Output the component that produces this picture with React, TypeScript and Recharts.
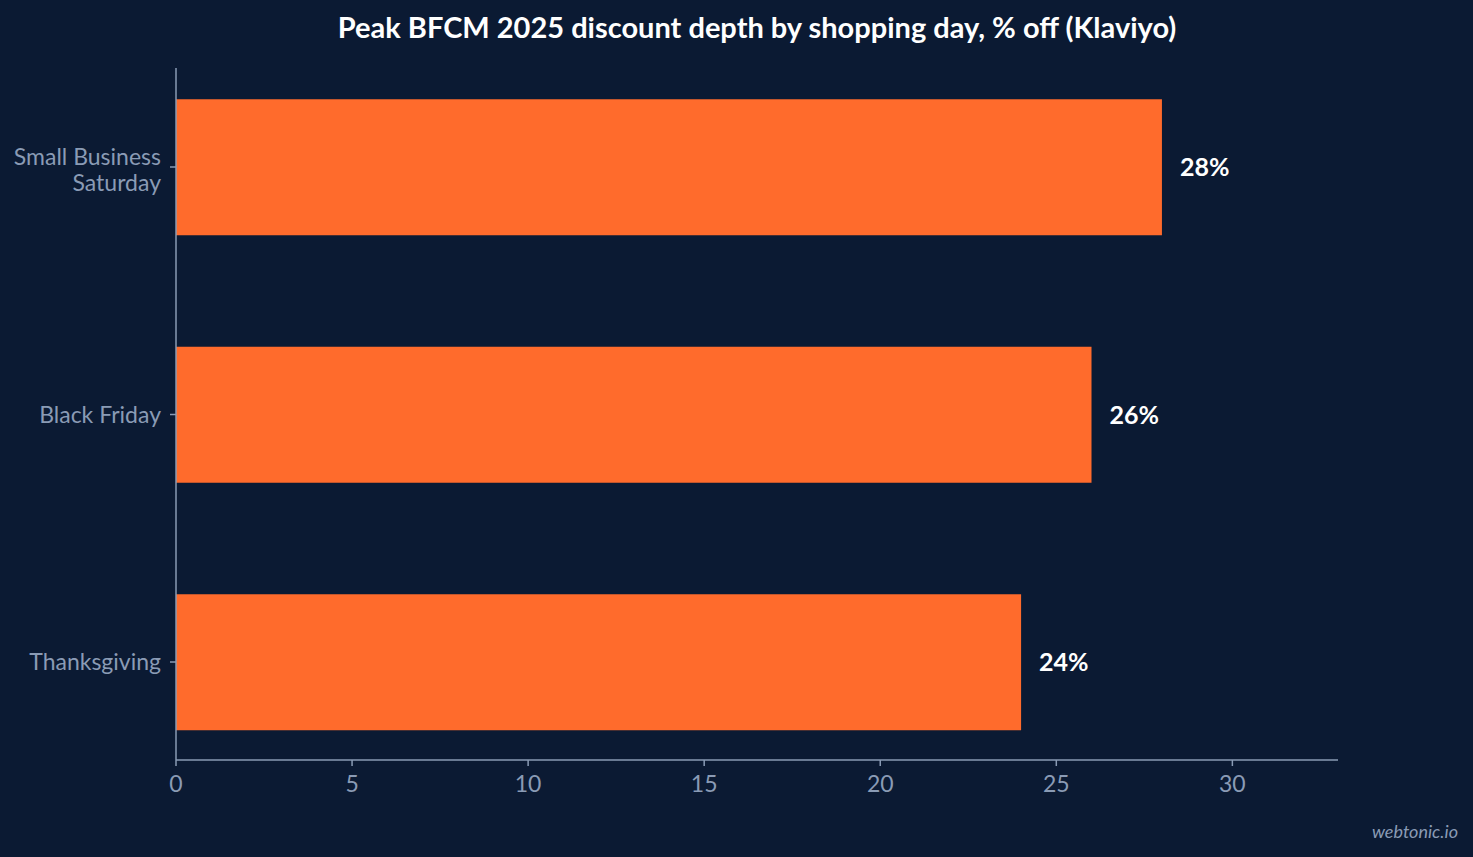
import React from "react";
import { BarChart, Bar, XAxis, YAxis, LabelList } from "recharts";

const days = ["Small Business Saturday", "Black Friday", "Thanksgiving"];
const discountPct = [28, 26, 24];
const xTicks = [0, 5, 10, 15, 20, 25, 30];

const data = days.map((day, i) => ({ day, pct: discountPct[i] }));

const BG = "#0b1a33";
const AXIS = "#8a9bb5";
const BAR = "#ff6b2c";
const FONT = "Lato, 'Noto Sans', sans-serif";

function DayTick({ x, y, payload }: any) {
  const words = String(payload.value).split(" ");
  const lines = payload.value.length > 14 && words.length > 2
    ? [words.slice(0, 2).join(" "), words.slice(2).join(" ")]
    : [payload.value];
  const lh = 25.5;
  const start = lines.length > 1 ? -lh / 2 + 3 : 0;
  return (
    <text x={x} y={y} textAnchor="end" fill={AXIS} fontSize={23} fontFamily={FONT}>
      {lines.map((l, i) => (
        <tspan key={i} x={x - 1} dy={i === 0 ? start + 8 : lh}>
          {l}
        </tspan>
      ))}
    </text>
  );
}

export default function App() {
  return (
    <div
      style={{
        position: "fixed",
        left: 0,
        top: 0,
        width: 1473,
        height: 857,
        background: BG,
        fontFamily: FONT,
      }}
    >
      <div
        style={{
          position: "absolute",
          top: 9,
          left: 0,
          width: 1514,
          textAlign: "center",
          color: "#ffffff",
          fontWeight: 700,
          fontSize: 29,
        }}
      >
        Peak BFCM 2025 discount depth by shopping day, % off (Klaviyo)
      </div>
      <BarChart
        width={1473}
        height={857}
        data={data}
        layout="vertical"
        margin={{ top: 68, right: 135, bottom: 67, left: 0 }}
        style={{ position: "absolute", left: 0, top: 0 }}
      >
        <XAxis
          type="number"
          domain={[0, 33]}
          ticks={xTicks}
          height={30}
          stroke={AXIS}
          strokeWidth={1.5}
          tickSize={6}
          tick={{ fill: AXIS, fontSize: 23, fontFamily: FONT }}
          tickMargin={10}
        />
        <YAxis
          type="category"
          dataKey="day"
          width={176}
          stroke={AXIS}
          strokeWidth={1.5}
          tickSize={6}
          tickMargin={8}
          padding={{ top: -24.75, bottom: -25.75 }}
          tick={<DayTick />}
        />
        <Bar dataKey="pct" fill={BAR} barSize={136} isAnimationActive={false}>
          <LabelList
            dataKey="pct"
            position="right"
            offset={18}
            formatter={(v: any) => `${v}%`}
            fill="#ffffff"
            fontSize={25}
            fontWeight={700}
            fontFamily={FONT}
          />
        </Bar>
      </BarChart>
      <div
        style={{
          position: "absolute",
          right: 15,
          top: 820,
          color: AXIS,
          fontStyle: "italic",
          fontSize: 18,
        }}
      >
        webtonic.io
      </div>
    </div>
  );
}
